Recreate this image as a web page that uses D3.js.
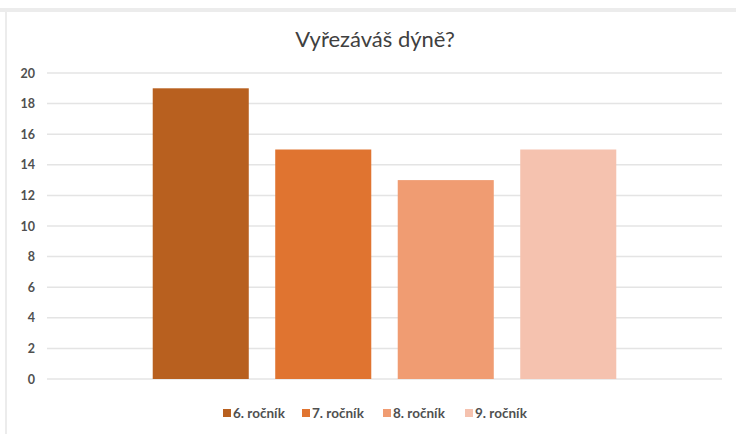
<!DOCTYPE html>
<html>
<head>
<meta charset="utf-8">
<script src="https://cdn.jsdelivr.net/npm/d3@7"></script>
<style>
  body { margin: 0; background: #fff; }
  svg { display: block; font-family: Lato, "Open Sans", sans-serif; }
</style>
</head>
<body>
<svg id="chart" width="736" height="434"></svg>
<script>
// Chart data
var title = "Vyřezáváš dýně?";
var seriesNames = ["6. ročník", "7. ročník", "8. ročník", "9. ročník"];
var seriesValues = [19, 15, 13, 15];
var seriesColors = ["#B8601F", "#E07430", "#F09C72", "#F5C2AF"];
var yTicks = [0, 2, 4, 6, 8, 10, 12, 14, 16, 18, 20];

var svg = d3.select("#chart");

// frame bits from the screenshot
svg.append("rect").attr("x", 0).attr("y", 8).attr("width", 736).attr("height", 4)
    .attr("fill", "#ECECEC");
svg.append("rect").attr("x", 5).attr("y", 8).attr("width", 2).attr("height", 426)
    .attr("fill", "#ECECEC");

var plot = { left: 47, right: 722, top: 73, bottom: 379 };

var y = d3.scaleLinear().domain([0, 20]).range([plot.bottom, plot.top]);
var x = d3.scaleBand()
    .domain(seriesNames)
    .range([plot.left, plot.right])
    .paddingInner(0.216)
    .paddingOuter(0.863);

// gridlines
svg.append("g")
    .selectAll("line")
    .data(yTicks)
    .join("line")
    .attr("x1", plot.left)
    .attr("x2", plot.right)
    .attr("y1", d => y(d))
    .attr("y2", d => y(d))
    .attr("stroke", "#E4E4E4")
    .attr("stroke-width", 1.5);

// y axis labels
var yAxis = svg.append("g")
    .attr("transform", "translate(35,0)")
    .call(d3.axisLeft(y).tickValues(yTicks).tickSize(0).tickPadding(0));
yAxis.select(".domain").remove();
yAxis.selectAll("text")
    .attr("fill", "#505050")
    .style("font-size", "12.5px")
    .style("font-weight", "bold")
    .style("font-family", "Lato, 'Open Sans', sans-serif");

// bars
svg.append("g")
    .selectAll("rect")
    .data(seriesNames)
    .join("rect")
    .attr("x", d => x(d))
    .attr("y", (d, i) => y(seriesValues[i]))
    .attr("width", x.bandwidth())
    .attr("height", (d, i) => y(0) - y(seriesValues[i]))
    .attr("fill", (d, i) => seriesColors[i]);

// title
svg.append("text")
    .attr("x", 375)
    .attr("y", 47)
    .attr("text-anchor", "middle")
    .attr("fill", "#404040")
    .style("font-size", "22px")
    .text(title);

// legend
var legendX = [223, 302, 383, 465];
var legend = svg.append("g")
    .selectAll("g")
    .data(seriesNames)
    .join("g")
    .attr("transform", (d, i) => "translate(" + legendX[i] + ",409)");
legend.append("rect")
    .attr("width", 8)
    .attr("height", 8)
    .attr("fill", (d, i) => seriesColors[i]);
legend.append("text")
    .attr("x", 10)
    .attr("y", 8.5)
    .attr("fill", "#505050")
    .style("font-size", "13.5px")
    .style("font-weight", "bold")
    .text(d => d);
</script>
</body>
</html>
